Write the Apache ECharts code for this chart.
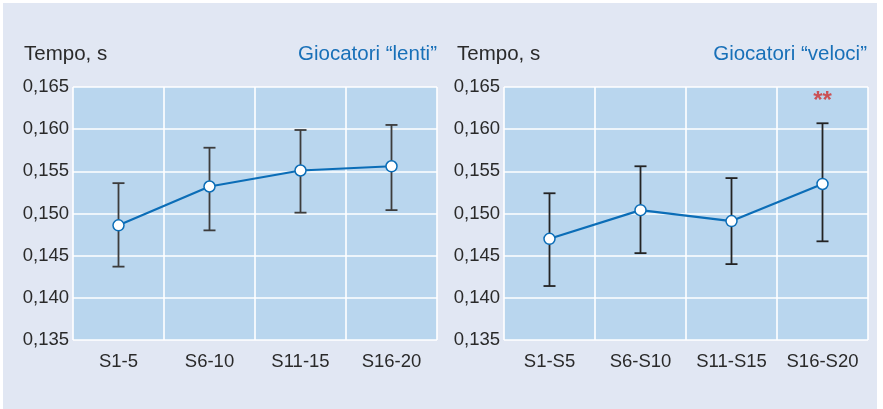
<!DOCTYPE html>
<html>
<head>
<meta charset="utf-8">
<script src="https://cdn.jsdelivr.net/npm/echarts@6/dist/echarts.min.js"></script>
<style>
  html, body { margin: 0; padding: 0; background: #ffffff; }
  #chart { width: 883px; height: 409px; }
</style>
</head>
<body>
<div id="chart"></div>
<script>
// Reaction time per session block, slow vs fast players (mean ± SD)
const categoriesSlow = ['S1-5', 'S6-10', 'S11-15', 'S16-20'];
const meanSlow  = [0.1486, 0.1532, 0.1551, 0.1556];
const upperSlow = [0.1536, 0.1578, 0.1599, 0.1605];
const lowerSlow = [0.1437, 0.1480, 0.1501, 0.1504];

const categoriesFast = ['S1-S5', 'S6-S10', 'S11-S15', 'S16-S20'];
const meanFast  = [0.1470, 0.1504, 0.1491, 0.1535];
const upperFast = [0.1524, 0.1556, 0.1542, 0.1607];
const lowerFast = [0.1414, 0.1453, 0.1440, 0.1467];
const significanceFast = ['', '', '', '**'];

const yTicks = { min: 0.135, max: 0.165, interval: 0.005 };

const panelTitles = ['Giocatori “lenti”', 'Giocatori “veloci”'];
const axisName = 'Tempo, s';

const textColor = '#2a2a2a';
const lineBlue = '#0b6db7';
const titleBlue = '#1870b8';

function errorBars(lower, upper, color) {
  return {
    type: 'custom',
    renderItem: function (params, api) {
      const x = api.value(0);
      const lo = api.coord([x, api.value(1)]);
      const hi = api.coord([x, api.value(2)]);
      const half = 6;
      const style = { stroke: color, lineWidth: 1.8, fill: 'none' };
      return {
        type: 'group',
        children: [
          { type: 'line', shape: { x1: lo[0], y1: lo[1], x2: hi[0], y2: hi[1] }, style: style },
          { type: 'line', shape: { x1: hi[0] - half, y1: hi[1], x2: hi[0] + half, y2: hi[1] }, style: style },
          { type: 'line', shape: { x1: lo[0] - half, y1: lo[1], x2: lo[0] + half, y2: lo[1] }, style: style }
        ]
      };
    },
    data: lower.map((v, i) => [i, v, upper[i]]),
    z: 2
  };
}

function meanLine(values) {
  return {
    type: 'line',
    data: values,
    symbol: 'circle',
    symbolSize: 11,
    lineStyle: { color: lineBlue, width: 2.2 },
    itemStyle: { color: '#ffffff', borderColor: lineBlue, borderWidth: 1.5 },
    z: 3
  };
}

function yAxis(gridIndex) {
  return {
    type: 'value',
    gridIndex: gridIndex,
    min: yTicks.min,
    max: yTicks.max,
    interval: yTicks.interval,
    axisLine: { show: false },
    axisTick: { show: false },
    splitLine: { lineStyle: { color: '#ffffff', width: 1.6 } },
    axisLabel: {
      color: textColor,
      fontSize: 18.5,
      fontFamily: 'Liberation Sans, Arial, sans-serif',
      margin: 4,
      formatter: v => v.toFixed(3).replace('.', ',')
    }
  };
}

function xAxis(gridIndex, cats) {
  return {
    type: 'category',
    gridIndex: gridIndex,
    data: cats,
    axisLine: { show: false },
    axisTick: { show: false },
    splitLine: { show: true, interval: 0, lineStyle: { color: '#ffffff', width: 1.6 } },
    axisLabel: {
      interval: 0,
      color: textColor,
      fontSize: 18.5,
      fontFamily: 'Liberation Sans, Arial, sans-serif',
      margin: 12
    }
  };
}

const titleFont = { fontSize: 20.5, fontWeight: 'normal', fontFamily: 'Liberation Sans, Arial, sans-serif' };

const option = {
  animation: false,
  backgroundColor: '#ffffff',
  graphic: [{
    type: 'rect',
    shape: { x: 3, y: 3, width: 874, height: 410 },
    style: { fill: '#e1e7f3' },
    z: -10,
    silent: true
  }],
  title: [
    { text: axisName, left: 24, top: 44, padding: 0, textStyle: Object.assign({ color: textColor }, titleFont) },
    { text: panelTitles[0], right: 446, top: 44, padding: 0, textStyle: Object.assign({ color: titleBlue }, titleFont) },
    { text: axisName, left: 457, top: 44, padding: 0, textStyle: Object.assign({ color: textColor }, titleFont) },
    { text: panelTitles[1], right: 16, top: 44, padding: 0, textStyle: Object.assign({ color: titleBlue }, titleFont) }
  ],
  grid: [
    { left: 73, right: 446, top: 87, bottom: 69, show: true, backgroundColor: '#b9d6ee', borderWidth: 0 },
    { left: 504, right: 15, top: 87, bottom: 69, show: true, backgroundColor: '#b9d6ee', borderWidth: 0 }
  ],
  xAxis: [xAxis(0, categoriesSlow), xAxis(1, categoriesFast)],
  yAxis: [yAxis(0), yAxis(1)],
  series: [
    Object.assign(errorBars(lowerSlow, upperSlow, '#3c3c3c'), { xAxisIndex: 0, yAxisIndex: 0 }),
    Object.assign(meanLine(meanSlow), { xAxisIndex: 0, yAxisIndex: 0 }),
    Object.assign(errorBars(lowerFast, upperFast, '#232323'), { xAxisIndex: 1, yAxisIndex: 1 }),
    Object.assign(meanLine(meanFast), { xAxisIndex: 1, yAxisIndex: 1 }),
    {
      // significance markers above the error bars
      type: 'scatter',
      xAxisIndex: 1,
      yAxisIndex: 1,
      symbol: 'circle',
      symbolSize: 2,
      itemStyle: { color: 'rgba(0,0,0,0)' },
      data: upperFast.map((v, i) => ({ value: [i, v], label: { formatter: significanceFast[i] } })),
      label: {
        show: true,
        position: 'top',
        distance: 9,
        color: '#d0302e',
        fontSize: 24,
        fontWeight: 'bold',
        fontFamily: 'Liberation Sans, Arial, sans-serif'
      },
      z: 4
    }
  ]
};

const chart = echarts.init(document.getElementById('chart'), null, { renderer: 'canvas' });
chart.setOption(option);
</script>
</body>
</html>
